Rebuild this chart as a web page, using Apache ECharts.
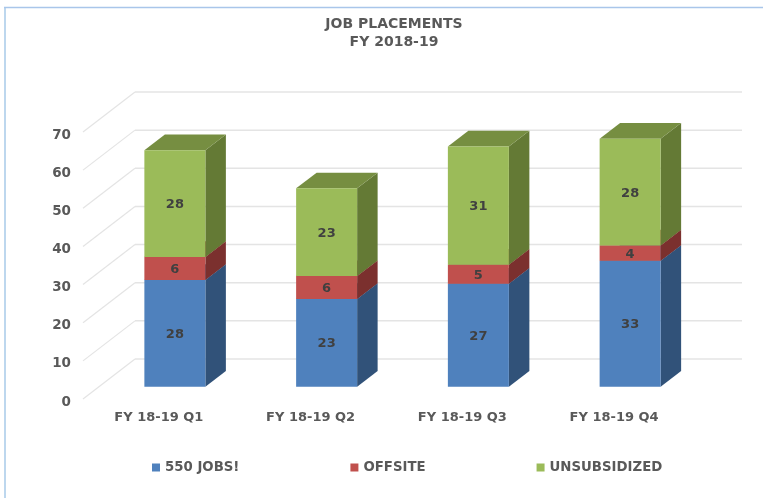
<!DOCTYPE html>
<html><head><meta charset="utf-8">
<style>html,body{margin:0;padding:0;background:#fff}#c{width:763px;height:498px}</style>
<script src="https://cdn.jsdelivr.net/npm/echarts@6/dist/echarts.min.js"></script>
</head><body><div id="c"></div>
<script>
const categories = ['FY 18-19 Q1','FY 18-19 Q2','FY 18-19 Q3','FY 18-19 Q4'];
const jobs550 = [28,23,27,33];
const offsite = [6,6,5,4];
const unsubsidized = [28,23,31,28];
const yTicks = [0,10,20,30,40,50,60,70];

const FONT = '"DejaVu Sans", Verdana, sans-serif';
const chart = echarts.init(document.getElementById('c'), null, {renderer:'canvas'});

// oblique projection: floor depth, and where the bars sit within it
const DEPTH = [52,-40];
const BAR_OFFSET = [16,-12.3];
const BAR_DEPTH = [20.5,-15.7];
const BAR_RATIO = 0.402;

function gridItem(params, api){
  const c = params.coordSys;
  const p = api.coord([0, api.value(0)]);
  const y = p[1];
  const bx = c.x + DEPTH[0], by = y + DEPTH[1];
  return {type:'group', silent:true, children:[
    {type:'line', shape:{x1:c.x,y1:y,x2:bx,y2:by}, style:{stroke:'#e4e4e4',lineWidth:1.2}},
    {type:'line', shape:{x1:bx,y1:by,x2:bx+c.width,y2:by}, style:{stroke:'#e4e4e4',lineWidth:1.5}}
  ]};
}
function poly(points, fill){ return {type:'polygon', shape:{points}, style:{fill}}; }
function barRenderer(front, side, top){
  return function(params, api){
    const cat = api.value(0);
    const p0 = api.coord([cat, api.value(1)]);
    const p1 = api.coord([cat, api.value(2)]);
    const w = api.size([1,0])[0]*BAR_RATIO;
    const xl = p0[0]+BAR_OFFSET[0]-w/2, xr = xl+w;
    const yb = p0[1]+BAR_OFFSET[1], yt = p1[1]+BAR_OFFSET[1];
    const dx = BAR_DEPTH[0], dy = BAR_DEPTH[1];
    return {type:'group', silent:true, children:[
      poly([[xr,yb],[xr+dx,yb+dy],[xr+dx,yt+dy],[xr,yt]], side),
      poly([[xl,yt],[xr,yt],[xr+dx,yt+dy],[xl+dx,yt+dy]], top),
      {type:'rect', shape:{x:xl,y:yt,width:w,height:yb-yt}, style:{fill:front}},
      {type:'text', style:{x:(xl+xr)/2, y:(yt+yb)/2+1, text:String(api.value(2)-api.value(1)),
        align:'center', verticalAlign:'middle', fill:'#404040', font:'bold 13px '+FONT}}
    ]};
  };
}
function stackData(values, below){
  return values.map((v,i)=>[i, below[i], below[i]+v]);
}
const base0 = categories.map(()=>0);
const base1 = jobs550;
const base2 = jobs550.map((v,i)=>v+offsite[i]);

chart.setOption({
  animation:false,
  backgroundColor:'#fff',
  title:{text:'JOB PLACEMENTS\nFY 2018-19', left:389, top:10, textAlign:'center',
    textStyle:{fontFamily:FONT,fontSize:14,fontWeight:'bold',color:'#595959',lineHeight:18}},
  legend:{left:152, top:461, padding:0, itemWidth:8, itemHeight:8, itemGap:111, icon:'rect',
    textStyle:{fontFamily:FONT,fontSize:13.3,fontWeight:'bold',color:'#595959'},
    data:['550 JOBS!','OFFSITE','UNSUBSIDIZED']},
  grid:{left:83, top:132, width:607, height:267},
  xAxis:{type:'category', data:categories, axisLine:{show:false}, axisTick:{show:false},
    axisLabel:{margin:12,fontFamily:FONT,fontSize:13,fontWeight:'bold',color:'#595959'}},
  yAxis:{type:'value', min:0, max:70, interval:10, splitLine:{show:false}, axisLine:{show:false}, axisTick:{show:false},
    axisLabel:{margin:12,formatter:'{a|{value}}',
      rich:{a:{padding:[6,0,0,0],fontFamily:FONT,fontSize:13.5,fontWeight:'bold',color:'#595959'}}}},
  graphic:[
    {type:'line', silent:true, shape:{x1:5,y1:7,x2:5,y2:498}, style:{stroke:'#bdd7ee',lineWidth:2}},
    {type:'line', silent:true, shape:{x1:4,y1:7.5,x2:763,y2:7.5}, style:{stroke:'#a9c6ea',lineWidth:1.3}}
  ],
  series:[
    {type:'custom', name:'grid', silent:true, z:1, renderItem:gridItem, data:yTicks.map(v=>[v]), encode:{y:0}, legendHoverLink:false},
    {type:'custom', name:'550 JOBS!', z:2, itemStyle:{color:'#4F81BD'}, renderItem:barRenderer('#4F81BD','#315279','#3c618e'), data:stackData(jobs550,base0), encode:{x:0,y:[1,2]}},
    {type:'custom', name:'OFFSITE', z:3, itemStyle:{color:'#C0504D'}, renderItem:barRenderer('#C0504D','#7b302e','#903c3a'), data:stackData(offsite,base1), encode:{x:0,y:[1,2]}},
    {type:'custom', name:'UNSUBSIDIZED', z:4, itemStyle:{color:'#9BBB59'}, renderItem:barRenderer('#9BBB59','#647a35','#768e41'), data:stackData(unsubsidized,base2), encode:{x:0,y:[1,2]}}
  ]
});
</script></body></html>
